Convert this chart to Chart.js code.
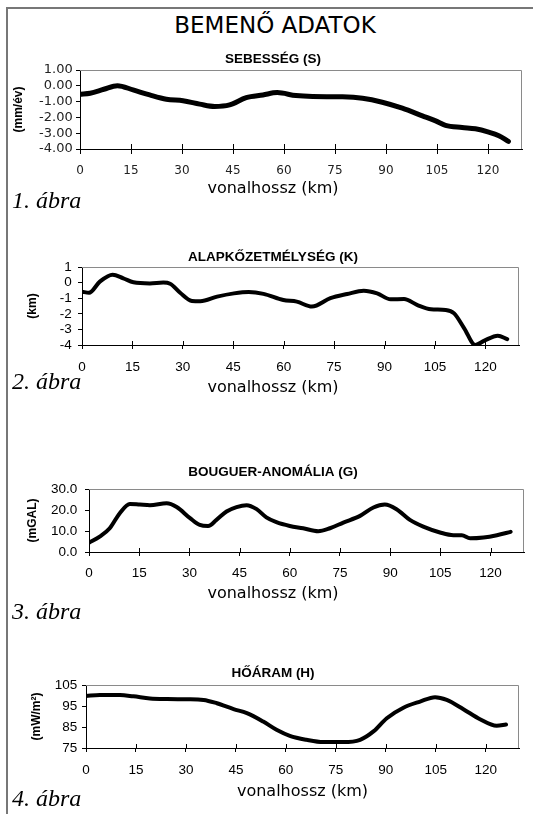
<!DOCTYPE html>
<html><head><meta charset="utf-8">
<script src="https://cdn.jsdelivr.net/npm/chart.js@4.4.1/dist/chart.umd.min.js"></script>
<style>
html,body{margin:0;padding:0;background:#fff;width:533px;height:814px;overflow:hidden;position:relative}
.frame{position:absolute;left:6px;top:7px;width:600px;height:900px;border-left:2px solid #777;border-top:2px solid #777}
.main{position:absolute;left:0;top:13.6px;width:550px;text-align:center;font:23px/23px 'DejaVu Sans';color:#000;white-space:nowrap}
.cap{position:absolute;left:12px;font:italic 24px/24px 'Liberation Serif';color:#000;white-space:nowrap}
canvas{position:absolute;left:9px}
</style></head><body>
<div class="frame"></div>
<div class="main">BEMENŐ ADATOK</div>
<canvas id="c1" width="528" height="150" style="top:49px;width:528px;height:150px"></canvas>
<canvas id="c2" width="528" height="151" style="top:247px;width:528px;height:151px"></canvas>
<canvas id="c3" width="528" height="142" style="top:462px;width:528px;height:142px"></canvas>
<canvas id="c4" width="528" height="139" style="top:663px;width:528px;height:139px"></canvas>
<div class="cap" style="top:188.4px">1. ábra</div>
<div class="cap" style="top:368.7px">2. ábra</div>
<div class="cap" style="top:598.7px">3. ábra</div>
<div class="cap" style="top:785.9px">4. ábra</div>
<script>
// ---- data ----
const xTickValues = [0, 15, 30, 45, 60, 75, 90, 105, 120];
const xTitle = 'vonalhossz (km)';

const titleS = 'SEBESSÉG (S)';
const yTitleS = '(mm/év)';
const yTicksS = [-4, -3, -2, -1, 0, 1];
const kmS = [0, 3, 7, 11, 15.6, 20.5, 25.4, 30.3, 35.2, 39.6, 44, 48.9, 53.8, 58, 63.5, 68.4, 77.2, 83.1, 88.9, 94.8, 100.7, 104.6, 107.5, 112.4, 116.3, 120.2, 123.2, 126];
const sebesseg = [-0.53, -0.47, -0.22, 0.01, -0.26, -0.58, -0.85, -0.95, -1.16, -1.31, -1.21, -0.75, -0.58, -0.43, -0.62, -0.68, -0.70, -0.79, -1.04, -1.42, -1.90, -2.22, -2.51, -2.64, -2.72, -2.93, -3.16, -3.52];

const titleK = 'ALAPKŐZETMÉLYSÉG (K)';
const yTitleK = '(km)';
const yTicksK = [-4, -3, -2, -1, 0, 1];
const kmK = [0, 2.1, 5.3, 9.1, 12.3, 15.3, 20.2, 24.2, 26.2, 29.2, 32.7, 35.2, 40.2, 45.2, 49.6, 54, 59.9, 63.9, 68.4, 73.9, 78.9, 83.8, 87.8, 91.8, 95.8, 99.8, 103.8, 108.2, 110.7, 113.7, 117, 119.7, 123.7, 126.5];
const melyseg = [-0.58, -0.65, 0.06, 0.51, 0.27, 0.02, -0.05, 0.0, -0.07, -0.65, -1.18, -1.2, -0.9, -0.69, -0.6, -0.72, -1.12, -1.22, -1.54, -1.0, -0.73, -0.52, -0.69, -1.07, -1.05, -1.44, -1.71, -1.75, -1.97, -2.93, -4.0, -3.72, -3.4, -3.62];

const titleG = 'BOUGUER-ANOMÁLIA (G)';
const yTitleG = '(mGAL)';
const yTicksG = [0, 10, 20, 30];
const kmG = [0, 3.2, 6.2, 9.2, 12.2, 15.2, 18.2, 23.2, 26.2, 30.2, 33.1, 35.6, 38.1, 41.1, 44.1, 47.1, 50.1, 53, 56, 60, 64, 68.5, 72, 76, 81, 85, 88.4, 91.9, 95.9, 99.9, 104.9, 108.9, 111.4, 113.9, 117.9, 121.9, 126];
const bouguer = [4.4, 7.3, 11.3, 18.5, 22.9, 22.6, 22.3, 23.2, 21.4, 16.1, 12.9, 12.4, 15.3, 19.3, 21.4, 22.3, 20.4, 16.5, 14.2, 12.4, 11.3, 9.9, 11.3, 14.0, 17.2, 21.2, 22.6, 20.4, 15.3, 12.1, 9.3, 8.0, 8.0, 6.5, 6.9, 8.0, 9.6];

const titleH = 'HŐÁRAM (H)';
const yTitleH = '(mW/m²)';
const yTicksH = [75, 85, 95, 105];
const kmH = [0, 4.2, 10.2, 14.2, 19.2, 24.3, 30.3, 35.3, 39.3, 44.3, 48.3, 53.2, 57.2, 61.2, 66.2, 71.2, 77.2, 82.3, 86.3, 90.3, 95.3, 100.3, 104.8, 108.3, 113.3, 118.3, 123.3, 126.1];
const hoaram = [99.8, 100.2, 100.2, 99.6, 98.6, 98.3, 98.2, 97.9, 96.3, 93.5, 91.6, 87.6, 83.7, 80.8, 78.9, 77.8, 77.8, 78.9, 82.9, 89.2, 94.2, 97.1, 99.2, 97.9, 93.5, 88.7, 85.6, 86.2];

// ---- helpers ----
const CANVAS_LEFT = 9, CANVAS_RIGHT = 537;

const frameTicks = {
  id: 'frameTicks',
  beforeDatasetsDraw(chart, args, opts) {
    const {ctx, chartArea: a, scales: {x}} = chart;
    ctx.save();
    ctx.lineWidth = 1;
    ctx.strokeStyle = '#8a8a8a';
    const t = Math.round(a.top) + 0.5, r = Math.round(a.right) - 0.5;
    ctx.beginPath();
    ctx.moveTo(a.left, t); ctx.lineTo(r, t); ctx.lineTo(r, a.bottom);
    ctx.stroke();
    ctx.strokeStyle = '#000';
    ctx.beginPath();
    const b = Math.round(a.bottom);
    x.ticks.forEach(tk => {
      const px = Math.round(x.getPixelForValue(tk.value)) + 0.5;
      ctx.moveTo(px, b); ctx.lineTo(px, b - opts.len);
    });
    ctx.stroke();
    ctx.restore();
  }
};

function build(id, d, L) {
  const points = d.km.map((k, i) => ({x: k, y: d.vals[i]}));
  const useSub = !L.xTitleOnScale;
  new Chart(document.getElementById(id), {
    type: 'line',
    data: {datasets: [{
      data: points,
      borderColor: '#000',
      borderWidth: L.lw,
      pointRadius: 0,
      fill: false,
      tension: 0.4,
      cubicInterpolationMode: 'monotone',
      borderCapStyle: 'round',
      borderJoinStyle: 'round'
    }]},
    options: {
      responsive: false,
      animation: false,
      devicePixelRatio: 1,
      layout: {padding: {left: 0, right: 0, top: 0, bottom: L.padBottom || 0}},
      plugins: {
        legend: {display: false},
        tooltip: {enabled: false},
        title: {display: true, text: d.title, color: '#000',
          font: {family: 'Liberation Sans', size: 13.5, weight: 'bold'},
          padding: {top: L.subPt, bottom: L.subPb}},
        subtitle: {display: useSub, position: 'bottom', text: xTitle, color: '#000',
          font: {family: 'DejaVu Sans', size: 16, weight: 'normal'},
          padding: {top: 0, bottom: 0.4}},
        frameTicks: {len: L.xTickLen}
      },
      scales: {
        x: {
          type: 'linear', position: 'bottom', min: 0, max: 130,
          afterBuildTicks: s => { s.ticks = xTickValues.map(v => ({value: v})); },
          afterFit: s => { s.height = L.xH; },
          grid: {display: true, drawOnChartArea: false, drawTicks: true, tickLength: L.xTickLen, color: '#000', lineWidth: 1},
          border: {display: true, color: '#000', width: 1},
          ticks: {autoSkip: false, maxRotation: 0, padding: L.xTickPad, color: L.tickColor,
            font: {family: L.tickFont, size: L.xTickSize}},
          title: {display: !useSub, text: xTitle, color: '#000',
            font: {family: 'DejaVu Sans', size: 16, weight: 'normal'}, padding: {top: 0, bottom: 0}}
        },
        y: {
          type: 'linear', position: 'left', min: d.yTicks[0], max: d.yTicks[d.yTicks.length - 1],
          afterBuildTicks: s => { s.ticks = d.yTicks.map(v => ({value: v})); },
          afterFit: s => { s.width = L.plotL - CANVAS_LEFT; },
          grid: {display: true, drawOnChartArea: false, drawTicks: true, tickLength: L.yTickLen, color: '#000', lineWidth: 1},
          border: {display: true, color: '#000', width: 1},
          ticks: {autoSkip: false, padding: L.yTickPad, color: L.tickColor, font: {family: L.tickFont, size: L.yTickSize},
            callback: v => d.fmt(v)},
          title: {display: true, text: d.yTitle, color: '#000',
            font: {family: 'Liberation Sans', size: 12, weight: 'bold'}, padding: {top: L.yTitlePt, bottom: 0}}
        },
        yR: {
          type: 'linear', position: 'right', display: true,
          grid: {display: false, drawTicks: false}, ticks: {display: false}, border: {display: false},
          afterFit: s => { s.width = CANVAS_RIGHT - L.plotR; }
        }
      }
    },
    plugins: [frameTicks]
  });
}

build('c1', {km: kmS, vals: sebesseg, title: titleS, yTitle: yTitleS, yTicks: yTicksS, fmt: v => v.toFixed(2)},
  {lw: 5, plotL: 80, plotR: 522, subPt: 1.9, subPb: 2.9, yTitlePt: 2.8, yTickLen: 4, yTickPad: 3.3,
   xTickLen: 5, xTickPad: 9.8, xH: 30.4, tickFont: 'DejaVu Sans', xTickSize: 12, yTickSize: 13, tickColor: '#222'});

build('c2', {km: kmK, vals: melyseg, title: titleK, yTitle: yTitleK, yTicks: yTicksK, fmt: v => String(v)},
  {lw: 4, plotL: 82, plotR: 519, subPt: 1.9, subPb: 1.9, yTitlePt: 16.8, yTickLen: 4, yTickPad: 6.3,
   xTickLen: 4, xTickPad: 9.9, xH: 33.4, tickFont: 'Liberation Sans', xTickSize: 13.5, yTickSize: 13.5, tickColor: '#000'});

build('c3', {km: kmG, vals: bouguer, title: titleG, yTitle: yTitleG, yTicks: yTicksG, fmt: v => v.toFixed(1)},
  {lw: 4, plotL: 89, plotR: 524, subPt: 2.4, subPb: 8.4, yTitlePt: 16.8, yTickLen: 4, yTickPad: 7.7,
   xTickLen: 4, xTickPad: 8.9, xH: 32.4, tickFont: 'Liberation Sans', xTickSize: 13.5, yTickSize: 13.5, tickColor: '#000'});

build('c4', {km: kmH, vals: hoaram, title: titleH, yTitle: yTitleH, yTicks: yTicksH, fmt: v => String(v)},
  {lw: 4, plotL: 86, plotR: 519, subPt: 1.9, subPb: 3.9, yTitlePt: 20.8, yTickLen: 4, yTickPad: 4.7,
   xTickLen: 4, xTickPad: 9.9, xH: 53.6, xTitleOnScale: true, padBottom: 0.4,
   tickFont: 'Liberation Sans', xTickSize: 13.5, yTickSize: 13.5, tickColor: '#000'});
</script>
</body></html>
